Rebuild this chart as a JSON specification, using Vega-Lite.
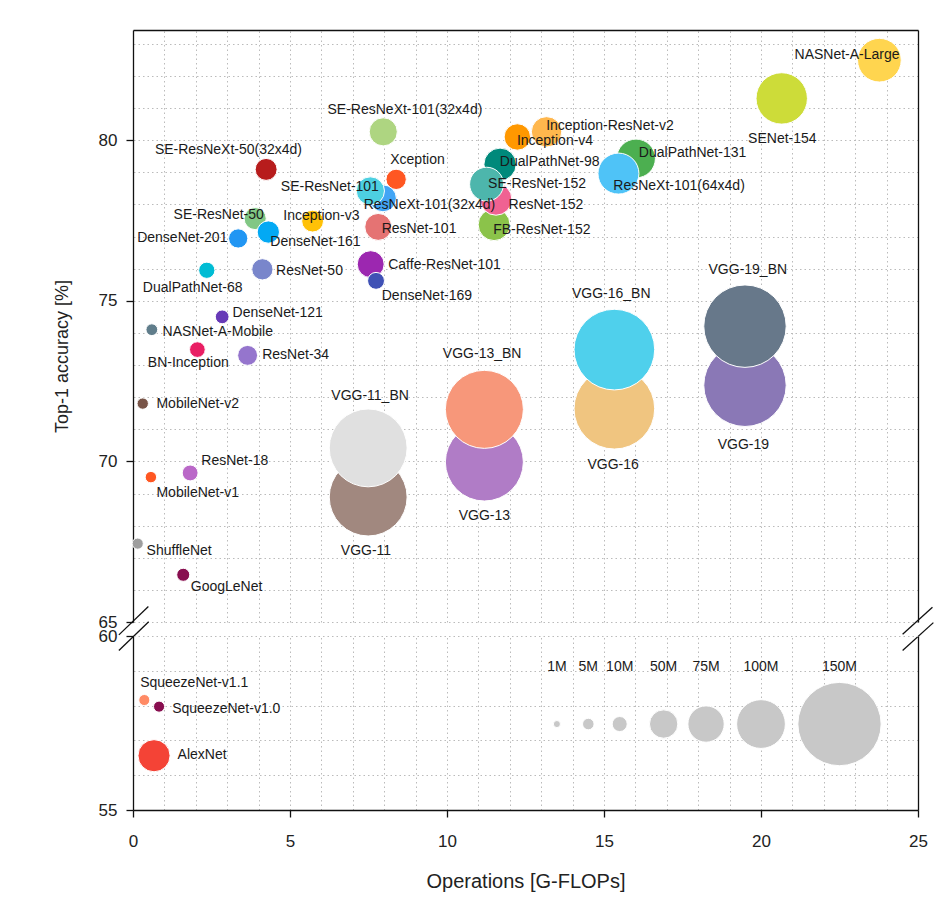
{
  "$schema": "https://vega.github.io/schema/vega-lite/v6.json",
  "padding": {"left": 53, "top": 30, "right": 5, "bottom": 5},
  "background": "white",
  "bounds": "flush",
  "config": {
    "view": {"stroke": null},
    "font": "Liberation Sans",
    "axis": {
      "domainColor": "#111", "domainWidth": 1.3, "tickColor": "#111", "tickWidth": 1.3, "tickSize": 7,
      "labelFont": "Liberation Sans", "labelFontSize": 17, "labelColor": "#222",
      "titleFont": "Liberation Sans", "titleFontWeight": "normal", "titleColor": "#222",
      "gridColor": "#bbbbbb", "gridDash": [1.5, 3], "gridWidth": 1,
      "labelOverlap": false, "labelFlush": false
    }
  },
  "datasets": {
    "nets": [
      {"name": "VGG-11", "flops": 7.49, "acc": 68.89, "params": 132.9, "lx": 7.42, "ly": 67.2},
      {"name": "VGG-11_BN", "flops": 7.49, "acc": 70.42, "params": 132.9, "lx": 7.55, "ly": 72.03},
      {"name": "VGG-13", "flops": 11.19, "acc": 69.98, "params": 133.0, "lx": 11.19, "ly": 68.29},
      {"name": "VGG-13_BN", "flops": 11.19, "acc": 71.62, "params": 133.1, "lx": 11.12, "ly": 73.33},
      {"name": "VGG-16", "flops": 15.33, "acc": 71.64, "params": 138.4, "lx": 15.29, "ly": 69.9},
      {"name": "VGG-16_BN", "flops": 15.33, "acc": 73.48, "params": 138.4, "lx": 15.23, "ly": 75.22},
      {"name": "VGG-19", "flops": 19.49, "acc": 72.37, "params": 143.7, "lx": 19.44, "ly": 70.52},
      {"name": "VGG-19_BN", "flops": 19.49, "acc": 74.21, "params": 143.7, "lx": 19.58, "ly": 75.97},
      {"name": "NASNet-A-Large", "flops": 23.77, "acc": 82.49, "params": 88.9, "lx": 22.74, "ly": 82.65},
      {"name": "SENet-154", "flops": 20.66, "acc": 81.3, "params": 115.1, "lx": 20.68, "ly": 80.05},
      {"name": "Inception-ResNet-v2", "flops": 13.17, "acc": 80.26, "params": 55.8, "lx": 15.19, "ly": 80.44},
      {"name": "Inception-v4", "flops": 12.24, "acc": 80.1, "params": 42.7, "lx": 13.44, "ly": 79.98},
      {"name": "SE-ResNeXt-101(32x4d)", "flops": 7.97, "acc": 80.26, "params": 49.0, "lx": 8.66, "ly": 80.93},
      {"name": "SE-ResNeXt-50(32x4d)", "flops": 4.24, "acc": 79.09, "params": 27.6, "lx": 3.04, "ly": 79.69},
      {"name": "Xception", "flops": 8.38, "acc": 78.78, "params": 22.9, "lx": 9.06, "ly": 79.38},
      {"name": "DualPathNet-131", "flops": 16.02, "acc": 79.43, "params": 79.3, "lx": 17.82, "ly": 79.59},
      {"name": "ResNeXt-101(64x4d)", "flops": 15.46, "acc": 78.96, "params": 83.5, "lx": 17.39, "ly": 78.58},
      {"name": "FB-ResNet-152", "flops": 11.5, "acc": 77.37, "params": 60.3, "lx": 13.02, "ly": 77.2},
      {"name": "ResNet-152", "flops": 11.56, "acc": 78.16, "params": 60.2, "lx": 13.15, "ly": 77.98},
      {"name": "DualPathNet-98", "flops": 11.69, "acc": 79.25, "params": 61.6, "lx": 13.27, "ly": 79.32},
      {"name": "SE-ResNet-152", "flops": 11.26, "acc": 78.63, "params": 66.8, "lx": 12.87, "ly": 78.63},
      {"name": "ResNeXt-101(32x4d)", "flops": 7.96, "acc": 78.19, "params": 44.2, "lx": 9.44, "ly": 77.98},
      {"name": "SE-ResNet-101", "flops": 7.56, "acc": 78.42, "params": 49.3, "lx": 6.27, "ly": 78.55},
      {"name": "ResNet-101", "flops": 7.81, "acc": 77.3, "params": 44.5, "lx": 9.11, "ly": 77.25},
      {"name": "Inception-v3", "flops": 5.72, "acc": 77.48, "params": 27.2, "lx": 6.0, "ly": 77.63},
      {"name": "SE-ResNet-50", "flops": 3.89, "acc": 77.56, "params": 28.1, "lx": 2.73, "ly": 77.66},
      {"name": "DenseNet-161", "flops": 4.31, "acc": 77.14, "params": 28.7, "lx": 5.81, "ly": 76.83},
      {"name": "DenseNet-201", "flops": 3.35, "acc": 76.94, "params": 20.0, "lx": 1.57, "ly": 76.94},
      {"name": "Caffe-ResNet-101", "flops": 7.57, "acc": 76.14, "params": 44.6, "lx": 9.92, "ly": 76.11},
      {"name": "DenseNet-169", "flops": 7.74, "acc": 75.62, "params": 14.1, "lx": 9.36, "ly": 75.14},
      {"name": "DualPathNet-68", "flops": 2.35, "acc": 75.95, "params": 12.6, "lx": 1.9, "ly": 75.41},
      {"name": "ResNet-50", "flops": 4.12, "acc": 75.98, "params": 25.6, "lx": 5.62, "ly": 75.92},
      {"name": "DenseNet-121", "flops": 2.84, "acc": 74.5, "params": 8.0, "lx": 4.61, "ly": 74.62},
      {"name": "NASNet-A-Mobile", "flops": 0.6, "acc": 74.1, "params": 5.3, "lx": 2.7, "ly": 74.03},
      {"name": "BN-Inception", "flops": 2.05, "acc": 73.48, "params": 11.3, "lx": 1.76, "ly": 73.06},
      {"name": "ResNet-34", "flops": 3.65, "acc": 73.3, "params": 21.8, "lx": 5.18, "ly": 73.32},
      {"name": "MobileNet-v2", "flops": 0.31, "acc": 71.8, "params": 3.5, "lx": 2.06, "ly": 71.78},
      {"name": "ResNet-18", "flops": 1.82, "acc": 69.64, "params": 11.7, "lx": 3.24, "ly": 70.0},
      {"name": "MobileNet-v1", "flops": 0.57, "acc": 69.51, "params": 4.2, "lx": 2.06, "ly": 69.01},
      {"name": "ShuffleNet", "flops": 0.15, "acc": 67.44, "params": 1.8, "lx": 1.47, "ly": 67.2},
      {"name": "GoogLeNet", "flops": 1.6, "acc": 66.47, "params": 7.0, "lx": 2.98, "ly": 66.08},
      {"name": "SqueezeNet-v1.1", "flops": 0.36, "acc": 58.16, "params": 1.2, "lx": 1.95, "ly": 58.64},
      {"name": "SqueezeNet-v1.0", "flops": 0.83, "acc": 57.97, "params": 1.2, "lx": 2.97, "ly": 57.89},
      {"name": "AlexNet", "flops": 0.67, "acc": 56.56, "params": 61.1, "lx": 2.2, "ly": 56.58},
      {"name": "1M", "flops": 13.5, "acc": 57.47, "params": 1, "lx": 13.5, "ly": 59.12},
      {"name": "5M", "flops": 14.5, "acc": 57.47, "params": 5, "lx": 14.5, "ly": 59.12},
      {"name": "10M", "flops": 15.5, "acc": 57.47, "params": 10, "lx": 15.5, "ly": 59.12},
      {"name": "50M", "flops": 16.9, "acc": 57.47, "params": 50, "lx": 16.9, "ly": 59.12},
      {"name": "75M", "flops": 18.25, "acc": 57.47, "params": 75, "lx": 18.25, "ly": 59.12},
      {"name": "100M", "flops": 20.0, "acc": 57.47, "params": 100, "lx": 20.0, "ly": 59.12},
      {"name": "150M", "flops": 22.5, "acc": 57.47, "params": 150, "lx": 22.5, "ly": 59.12}
    ],
    "breaks": [
      {"x1": -0.45, "y1": 64.6, "x2": 0.49, "y2": 65.48},
      {"x1": -0.45, "y1": 64.11, "x2": 0.5, "y2": 65.01},
      {"x1": 24.51, "y1": 64.62, "x2": 25.46, "y2": 65.46},
      {"x1": 24.51, "y1": 64.11, "x2": 25.49, "y2": 64.98}
    ]
  },
  "spacing": 14,
  "vconcat": [
    {
      "width": 785,
      "height": 592,
      "resolve": {"axis": {"x": "independent", "y": "independent"}},
      "layer": [
        {
          "data": {"name": "nets"},
          "transform": [{"filter": "datum.acc >= 62"}],
          "mark": {"type": "circle", "opacity": 1, "stroke": "white", "strokeWidth": 1},
          "encoding": {
            "x": {"field": "flops", "type": "quantitative",
              "scale": {"domain": [0, 25], "nice": false, "zero": false},
              "axis": {"orient": "top", "values": [0,1,2,3,4,5,6,7,8,9,10,11,12,13,14,15,16,17,18,19,20,21,22,23,24,25], "grid": true, "domain": true, "ticks": false, "labels": false, "title": null}},
            "y": {"field": "acc", "type": "quantitative",
              "scale": {"domain": [65, 83.43], "nice": false, "zero": false},
              "axis": {"orient": "left", "values": [65, 70, 75, 80], "grid": false,
                "labelOverlap": false, "labelPadding": 9,
                "title": "Top-1 accuracy [%]", "titleFontSize": 18, "titleX": -62, "titleY": 326}},
            "size": {"field": "params", "type": "quantitative", "legend": null,
              "scale": {"type": "linear", "zero": false, "nice": false,
                "domain": [1, 1.2, 5, 10, 50, 75, 100, 115.1, 133, 138.4, 143.7, 150],
                "range": [50, 123, 133, 227, 804, 1320, 2376, 2642, 6082, 6504, 6793, 6940]}},
            "color": {"field": "name", "type": "nominal", "legend": null,
              "scale": {
                "domain": ["VGG-11","VGG-11_BN","VGG-13","VGG-13_BN","VGG-16","VGG-16_BN","VGG-19","VGG-19_BN","NASNet-A-Large","SENet-154","Inception-ResNet-v2","Inception-v4","SE-ResNeXt-101(32x4d)","SE-ResNeXt-50(32x4d)","Xception","DualPathNet-131","ResNeXt-101(64x4d)","FB-ResNet-152","ResNet-152","DualPathNet-98","SE-ResNet-152","ResNeXt-101(32x4d)","SE-ResNet-101","ResNet-101","Inception-v3","SE-ResNet-50","DenseNet-161","DenseNet-201","Caffe-ResNet-101","DenseNet-169","DualPathNet-68","ResNet-50","DenseNet-121","NASNet-A-Mobile","BN-Inception","ResNet-34","MobileNet-v2","ResNet-18","MobileNet-v1","ShuffleNet","GoogLeNet","SqueezeNet-v1.1","SqueezeNet-v1.0","AlexNet","1M","5M","10M","50M","75M","100M","150M"],
                "range": ["#a1887f","#e0e0e0","#b07cc6","#f7977a","#f0c580","#4fd0ec","#8a78b6","#67788a","#ffd54f","#cddc39","#ffb74d","#ff9800","#aed581","#b71c1c","#ff5722","#4caf50","#4fc3f7","#8bc34a","#f06292","#00897b","#4db6ac","#42a5f5","#4dd0e1","#e57373","#ffc107","#81c784","#03a9f4","#2196f3","#9c27b0","#3f51b5","#00bcd4","#7986cb","#673ab7","#607d8b","#e91e63","#9575cd","#795548","#ba68c8","#ff5722","#9e9e9e","#880e4f","#ff8a65","#880e4f","#f44336","#c8c8c8","#c8c8c8","#c8c8c8","#c8c8c8","#c8c8c8","#c8c8c8","#c8c8c8"]}}
          }
        },
        {
          "data": {"name": "nets"},
          "transform": [{"filter": "datum.acc >= 62"}],
          "mark": {"type": "text", "fontSize": 14, "font": "Liberation Sans", "color": "#1a1a1a", "align": "center", "baseline": "middle"},
          "encoding": {
            "x": {"field": "lx", "type": "quantitative", "axis": null},
            "y": {"field": "ly", "type": "quantitative",
              "axis": {"orient": "right", "values": [65,66,67,68,69,70,71,72,73,74,75,76,77,78,79,80,81,82,83], "grid": true, "domain": true, "ticks": false, "labels": false, "title": null}},
            "text": {"field": "name"}
          }
        },
        {
          "data": {"name": "breaks"},
          "mark": {"type": "rule", "color": "#111", "strokeWidth": 1.3},
          "encoding": {
            "x": {"field": "x1", "type": "quantitative", "axis": null},
            "x2": {"field": "x2"},
            "y": {"field": "y1", "type": "quantitative", "axis": null},
            "y2": {"field": "y2"}
          }
        }
      ]
    },
    {
      "width": 785,
      "height": 174,
      "resolve": {"axis": {"x": "independent", "y": "independent"}},
      "layer": [
        {
          "data": {"name": "nets"},
          "transform": [{"filter": "datum.acc < 62"}],
          "mark": {"type": "circle", "opacity": 1, "stroke": "white", "strokeWidth": 1},
          "encoding": {
            "x": {"field": "flops", "type": "quantitative",
              "scale": {"domain": [0, 25], "nice": false, "zero": false},
              "axis": {"orient": "bottom", "values": [0, 5, 10, 15, 20, 25], "grid": false,
                "labelOverlap": false, "labelPadding": 16,
                "title": "Operations [G-FLOPs]", "titleFontSize": 20, "titlePadding": 22}},
            "y": {"field": "acc", "type": "quantitative",
              "scale": {"domain": [55, 60], "nice": false, "zero": false},
              "axis": {"orient": "left", "values": [55, 60], "grid": false,
                "labelOverlap": false, "labelPadding": 9, "title": null}},
            "size": {"field": "params", "type": "quantitative", "legend": null,
              "scale": {"type": "linear", "zero": false, "nice": false,
                "domain": [1, 1.2, 5, 10, 50, 75, 100, 115.1, 133, 138.4, 143.7, 150],
                "range": [50, 123, 133, 227, 804, 1320, 2376, 2642, 6082, 6504, 6793, 6940]}},
            "color": {"field": "name", "type": "nominal", "legend": null,
              "scale": {
                "domain": ["VGG-11","VGG-11_BN","VGG-13","VGG-13_BN","VGG-16","VGG-16_BN","VGG-19","VGG-19_BN","NASNet-A-Large","SENet-154","Inception-ResNet-v2","Inception-v4","SE-ResNeXt-101(32x4d)","SE-ResNeXt-50(32x4d)","Xception","DualPathNet-131","ResNeXt-101(64x4d)","FB-ResNet-152","ResNet-152","DualPathNet-98","SE-ResNet-152","ResNeXt-101(32x4d)","SE-ResNet-101","ResNet-101","Inception-v3","SE-ResNet-50","DenseNet-161","DenseNet-201","Caffe-ResNet-101","DenseNet-169","DualPathNet-68","ResNet-50","DenseNet-121","NASNet-A-Mobile","BN-Inception","ResNet-34","MobileNet-v2","ResNet-18","MobileNet-v1","ShuffleNet","GoogLeNet","SqueezeNet-v1.1","SqueezeNet-v1.0","AlexNet","1M","5M","10M","50M","75M","100M","150M"],
                "range": ["#a1887f","#e0e0e0","#b07cc6","#f7977a","#f0c580","#4fd0ec","#8a78b6","#67788a","#ffd54f","#cddc39","#ffb74d","#ff9800","#aed581","#b71c1c","#ff5722","#4caf50","#4fc3f7","#8bc34a","#f06292","#00897b","#4db6ac","#42a5f5","#4dd0e1","#e57373","#ffc107","#81c784","#03a9f4","#2196f3","#9c27b0","#3f51b5","#00bcd4","#7986cb","#673ab7","#607d8b","#e91e63","#9575cd","#795548","#ba68c8","#ff5722","#9e9e9e","#880e4f","#ff8a65","#880e4f","#f44336","#c8c8c8","#c8c8c8","#c8c8c8","#c8c8c8","#c8c8c8","#c8c8c8","#c8c8c8"]}}
          }
        },
        {
          "data": {"name": "nets"},
          "transform": [{"filter": "datum.acc < 62"}],
          "mark": {"type": "text", "fontSize": 14, "font": "Liberation Sans", "color": "#1a1a1a", "align": "center", "baseline": "middle"},
          "encoding": {
            "x": {"field": "lx", "type": "quantitative",
              "axis": {"orient": "top", "values": [0,1,2,3,4,5,6,7,8,9,10,11,12,13,14,15,16,17,18,19,20,21,22,23,24,25], "grid": true, "domain": false, "ticks": false, "labels": false, "title": null}},
            "y": {"field": "ly", "type": "quantitative",
              "axis": {"orient": "right", "values": [55, 56, 57, 58, 59, 60], "grid": true, "domain": true, "ticks": false, "labels": false, "title": null}},
            "text": {"field": "name"}
          }
        }
      ]
    }
  ]
}
